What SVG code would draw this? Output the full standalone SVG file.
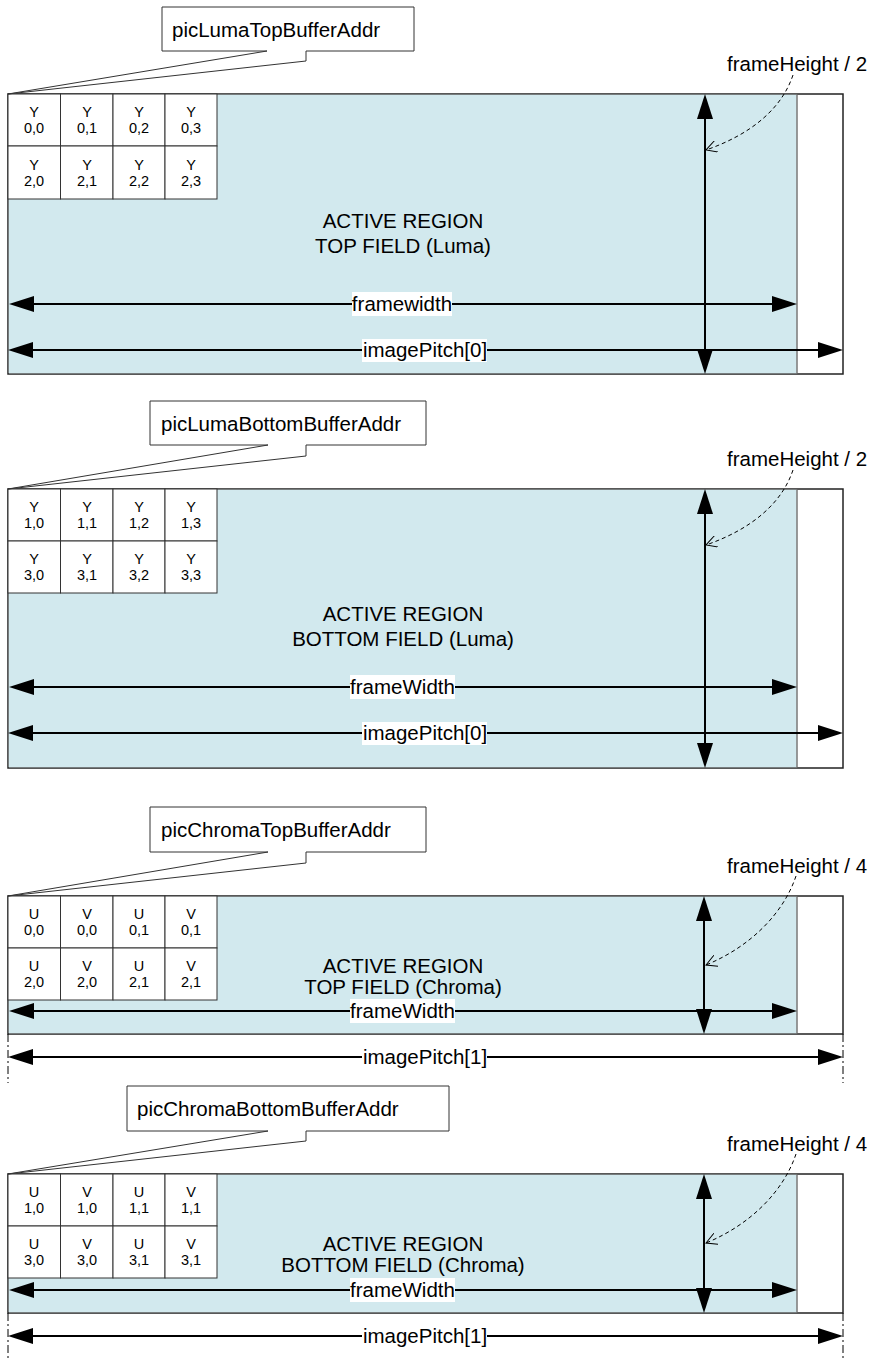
<svg xmlns="http://www.w3.org/2000/svg" width="874" height="1360" viewBox="0 0 874 1360">
<defs>
<style>
text{font-family:"Liberation Sans",Arial,sans-serif;fill:#000}
.big{font-size:20.5px}
.cell{font-size:14.5px;text-anchor:middle}
.mid{text-anchor:middle}
.frame{fill:#fff;stroke:#222;stroke-width:1.5}
.active{fill:#d2e9ee;stroke:none}
.edge{stroke:#777;stroke-width:1.5}
.cellbox{fill:#fff;stroke:#333;stroke-width:1}
.callout{fill:#fff;stroke:#333;stroke-width:1}
.arrow{stroke:#000;stroke-width:2;fill:none;marker-start:url(#ah);marker-end:url(#ah)}
.curve{stroke:#000;stroke-width:1;fill:none;stroke-dasharray:4,3;marker-end:url(#oh)}
.dd{stroke:#000;stroke-width:1;stroke-dasharray:8,3,2,3}
.lbl{fill:#fff;stroke:none}
</style>
<marker id="ah" viewBox="0 0 25 16" refX="22" refY="8" markerWidth="25" markerHeight="16" markerUnits="userSpaceOnUse" orient="auto-start-reverse">
<path d="M0,0 L25,8 L0,16 Z" fill="#000"/>
</marker>
<marker id="oh" viewBox="0 0 12 12" refX="11" refY="6" markerWidth="12" markerHeight="12" markerUnits="userSpaceOnUse" orient="auto">
<path d="M0,0 L11,6 L0,12" fill="none" stroke="#000" stroke-width="1"/>
</marker>
</defs>
<rect width="874" height="1360" fill="#fff"/>

<!-- Panel 1 -->
<g id="panel1">
<rect class="frame" x="8" y="94" width="835" height="280"/>
<rect class="active" x="8.75" y="94.75" width="788" height="278.5"/>
<line class="edge" x1="797" y1="94.75" x2="797" y2="373.25"/>
<g id="cells1">
<rect class="cellbox" x="8" y="94" width="52.5" height="52"/>
<rect class="cellbox" x="60.5" y="94" width="52.5" height="52"/>
<rect class="cellbox" x="113" y="94" width="52" height="52"/>
<rect class="cellbox" x="165" y="94" width="52" height="52"/>
<rect class="cellbox" x="8" y="146" width="52.5" height="53"/>
<rect class="cellbox" x="60.5" y="146" width="52.5" height="53"/>
<rect class="cellbox" x="113" y="146" width="52" height="53"/>
<rect class="cellbox" x="165" y="146" width="52" height="53"/>
<text class="cell" x="34" y="117">Y</text><text class="cell" x="34" y="133">0,0</text>
<text class="cell" x="87" y="117">Y</text><text class="cell" x="87" y="133">0,1</text>
<text class="cell" x="139" y="117">Y</text><text class="cell" x="139" y="133">0,2</text>
<text class="cell" x="191" y="117">Y</text><text class="cell" x="191" y="133">0,3</text>
<text class="cell" x="34" y="170">Y</text><text class="cell" x="34" y="186">2,0</text>
<text class="cell" x="87" y="170">Y</text><text class="cell" x="87" y="186">2,1</text>
<text class="cell" x="139" y="170">Y</text><text class="cell" x="139" y="186">2,2</text>
<text class="cell" x="191" y="170">Y</text><text class="cell" x="191" y="186">2,3</text>
</g>
<text class="big mid" x="403" y="228">ACTIVE REGION</text>
<text class="big mid" x="403" y="253">TOP FIELD (Luma)</text>
<path class="callout" d="M162,7 H414 V51 H306 V61 L8,94 L267,51 H162 Z"/>
<text class="big" x="172" y="37">picLumaTopBufferAddr</text>
<text class="big" x="727" y="71">frameHeight / 2</text>
</g>

<!-- Panel 2 -->
<g id="panel2">
<rect class="frame" x="8" y="489" width="835" height="279"/>
<rect class="active" x="8.75" y="489.75" width="788" height="277.5"/>
<line class="edge" x1="797" y1="489.75" x2="797" y2="767.25"/>
<g id="cells2">
<rect class="cellbox" x="8" y="489" width="52.5" height="52"/>
<rect class="cellbox" x="60.5" y="489" width="52.5" height="52"/>
<rect class="cellbox" x="113" y="489" width="52" height="52"/>
<rect class="cellbox" x="165" y="489" width="52" height="52"/>
<rect class="cellbox" x="8" y="541" width="52.5" height="52"/>
<rect class="cellbox" x="60.5" y="541" width="52.5" height="52"/>
<rect class="cellbox" x="113" y="541" width="52" height="52"/>
<rect class="cellbox" x="165" y="541" width="52" height="52"/>
<text class="cell" x="34" y="512">Y</text><text class="cell" x="34" y="528">1,0</text>
<text class="cell" x="87" y="512">Y</text><text class="cell" x="87" y="528">1,1</text>
<text class="cell" x="139" y="512">Y</text><text class="cell" x="139" y="528">1,2</text>
<text class="cell" x="191" y="512">Y</text><text class="cell" x="191" y="528">1,3</text>
<text class="cell" x="34" y="564">Y</text><text class="cell" x="34" y="580">3,0</text>
<text class="cell" x="87" y="564">Y</text><text class="cell" x="87" y="580">3,1</text>
<text class="cell" x="139" y="564">Y</text><text class="cell" x="139" y="580">3,2</text>
<text class="cell" x="191" y="564">Y</text><text class="cell" x="191" y="580">3,3</text>
</g>
<text class="big mid" x="403" y="621">ACTIVE REGION</text>
<text class="big mid" x="403" y="646">BOTTOM FIELD (Luma)</text>
<path class="callout" d="M150,401 H426 V445 H306 V456 L8,489 L268,445 H150 Z"/>
<text class="big" x="161" y="431">picLumaBottomBufferAddr</text>
<text class="big" x="727" y="466">frameHeight / 2</text>
</g>

<!-- Panel 3 -->
<g id="panel3">
<rect class="frame" x="8" y="896" width="835" height="138"/>
<rect class="active" x="8.75" y="896.75" width="788" height="136.5"/>
<line class="edge" x1="797" y1="896.75" x2="797" y2="1033.25"/>
<g id="cells3">
<rect class="cellbox" x="8" y="896" width="52.5" height="52"/>
<rect class="cellbox" x="60.5" y="896" width="52.5" height="52"/>
<rect class="cellbox" x="113" y="896" width="52" height="52"/>
<rect class="cellbox" x="165" y="896" width="52" height="52"/>
<rect class="cellbox" x="8" y="948" width="52.5" height="52"/>
<rect class="cellbox" x="60.5" y="948" width="52.5" height="52"/>
<rect class="cellbox" x="113" y="948" width="52" height="52"/>
<rect class="cellbox" x="165" y="948" width="52" height="52"/>
<text class="cell" x="34" y="919">U</text><text class="cell" x="34" y="935">0,0</text>
<text class="cell" x="87" y="919">V</text><text class="cell" x="87" y="935">0,0</text>
<text class="cell" x="139" y="919">U</text><text class="cell" x="139" y="935">0,1</text>
<text class="cell" x="191" y="919">V</text><text class="cell" x="191" y="935">0,1</text>
<text class="cell" x="34" y="971">U</text><text class="cell" x="34" y="987">2,0</text>
<text class="cell" x="87" y="971">V</text><text class="cell" x="87" y="987">2,0</text>
<text class="cell" x="139" y="971">U</text><text class="cell" x="139" y="987">2,1</text>
<text class="cell" x="191" y="971">V</text><text class="cell" x="191" y="987">2,1</text>
</g>
<text class="big mid" x="403" y="973">ACTIVE REGION</text>
<text class="big mid" x="403" y="994">TOP FIELD (Chroma)</text>
<path class="callout" d="M150,807 H426 V852 H306 V863 L8,896 L268,852 H150 Z"/>
<text class="big" x="161" y="837">picChromaTopBufferAddr</text>
<text class="big" x="727" y="873">frameHeight / 4</text>
</g>

<!-- Panel 4 -->
<g id="panel4">
<rect class="frame" x="8" y="1174" width="835" height="139"/>
<rect class="active" x="8.75" y="1174.75" width="788" height="137.5"/>
<line class="edge" x1="797" y1="1174.75" x2="797" y2="1312.25"/>
<g id="cells4">
<rect class="cellbox" x="8" y="1174" width="52.5" height="52"/>
<rect class="cellbox" x="60.5" y="1174" width="52.5" height="52"/>
<rect class="cellbox" x="113" y="1174" width="52" height="52"/>
<rect class="cellbox" x="165" y="1174" width="52" height="52"/>
<rect class="cellbox" x="8" y="1226" width="52.5" height="52"/>
<rect class="cellbox" x="60.5" y="1226" width="52.5" height="52"/>
<rect class="cellbox" x="113" y="1226" width="52" height="52"/>
<rect class="cellbox" x="165" y="1226" width="52" height="52"/>
<text class="cell" x="34" y="1197">U</text><text class="cell" x="34" y="1213">1,0</text>
<text class="cell" x="87" y="1197">V</text><text class="cell" x="87" y="1213">1,0</text>
<text class="cell" x="139" y="1197">U</text><text class="cell" x="139" y="1213">1,1</text>
<text class="cell" x="191" y="1197">V</text><text class="cell" x="191" y="1213">1,1</text>
<text class="cell" x="34" y="1249">U</text><text class="cell" x="34" y="1265">3,0</text>
<text class="cell" x="87" y="1249">V</text><text class="cell" x="87" y="1265">3,0</text>
<text class="cell" x="139" y="1249">U</text><text class="cell" x="139" y="1265">3,1</text>
<text class="cell" x="191" y="1249">V</text><text class="cell" x="191" y="1265">3,1</text>
</g>
<text class="big mid" x="403" y="1251">ACTIVE REGION</text>
<text class="big mid" x="403" y="1272">BOTTOM FIELD (Chroma)</text>
<path class="callout" d="M127,1086 H449 V1131 H306 V1141 L8,1174 L268,1131 H127 Z"/>
<text class="big" x="137" y="1116">picChromaBottomBufferAddr</text>
<text class="big" x="727" y="1151">frameHeight / 4</text>
</g>

<!-- Connectors -->
<g id="connectors">
<!-- panel 1 -->
<line class="arrow" x1="12" y1="304" x2="794" y2="304"/>
<line class="arrow" x1="11" y1="350" x2="840" y2="350"/>
<line class="arrow" x1="705" y1="97" x2="705" y2="371"/>
<path class="curve" d="M793,75 C782,108 752,134 706,150"/>
<!-- panel 2 -->
<line class="arrow" x1="12" y1="687" x2="794" y2="687"/>
<line class="arrow" x1="11" y1="733" x2="840" y2="733"/>
<line class="arrow" x1="705" y1="492" x2="705" y2="765"/>
<path class="curve" d="M793,470 C782,503 752,529 706,545"/>
<!-- panel 3 -->
<line class="arrow" x1="12" y1="1011" x2="794" y2="1011"/>
<line class="arrow" x1="11" y1="1057" x2="840" y2="1057"/>
<line class="arrow" x1="704" y1="899" x2="704" y2="1031"/>
<path class="curve" d="M796,876 C784,912 752,946 706,965"/>
<line class="dd" x1="8" y1="1034" x2="8" y2="1083"/>
<line class="dd" x1="843" y1="1034" x2="843" y2="1083"/>
<!-- panel 4 -->
<line class="arrow" x1="12" y1="1290" x2="794" y2="1290"/>
<line class="arrow" x1="11" y1="1336" x2="840" y2="1336"/>
<line class="arrow" x1="704" y1="1177" x2="704" y2="1310"/>
<path class="curve" d="M796,1154 C784,1190 752,1224 706,1243"/>
<line class="dd" x1="8" y1="1313" x2="8" y2="1360"/>
<line class="dd" x1="843" y1="1313" x2="843" y2="1360"/>
</g>

<!-- Arrow labels -->
<g id="arrow-labels">
<rect class="lbl" x="352" y="292" width="100" height="24"/>
<text class="big mid" x="402" y="311">framewidth</text>
<rect class="lbl" x="362" y="339" width="125" height="23"/>
<text class="big mid" x="425" y="357">imagePitch[0]</text>
<rect class="lbl" x="350" y="675" width="105" height="24"/>
<text class="big mid" x="402.5" y="694">frameWidth</text>
<rect class="lbl" x="362" y="722" width="125" height="23"/>
<text class="big mid" x="425" y="740">imagePitch[0]</text>
<rect class="lbl" x="350" y="999" width="105" height="24"/>
<text class="big mid" x="402.5" y="1018">frameWidth</text>
<rect class="lbl" x="362" y="1046" width="125" height="23"/>
<text class="big mid" x="425" y="1064">imagePitch[1]</text>
<rect class="lbl" x="350" y="1278" width="105" height="24"/>
<text class="big mid" x="402.5" y="1297">frameWidth</text>
<rect class="lbl" x="362" y="1325" width="125" height="23"/>
<text class="big mid" x="425" y="1343">imagePitch[1]</text>
</g>
</svg>
